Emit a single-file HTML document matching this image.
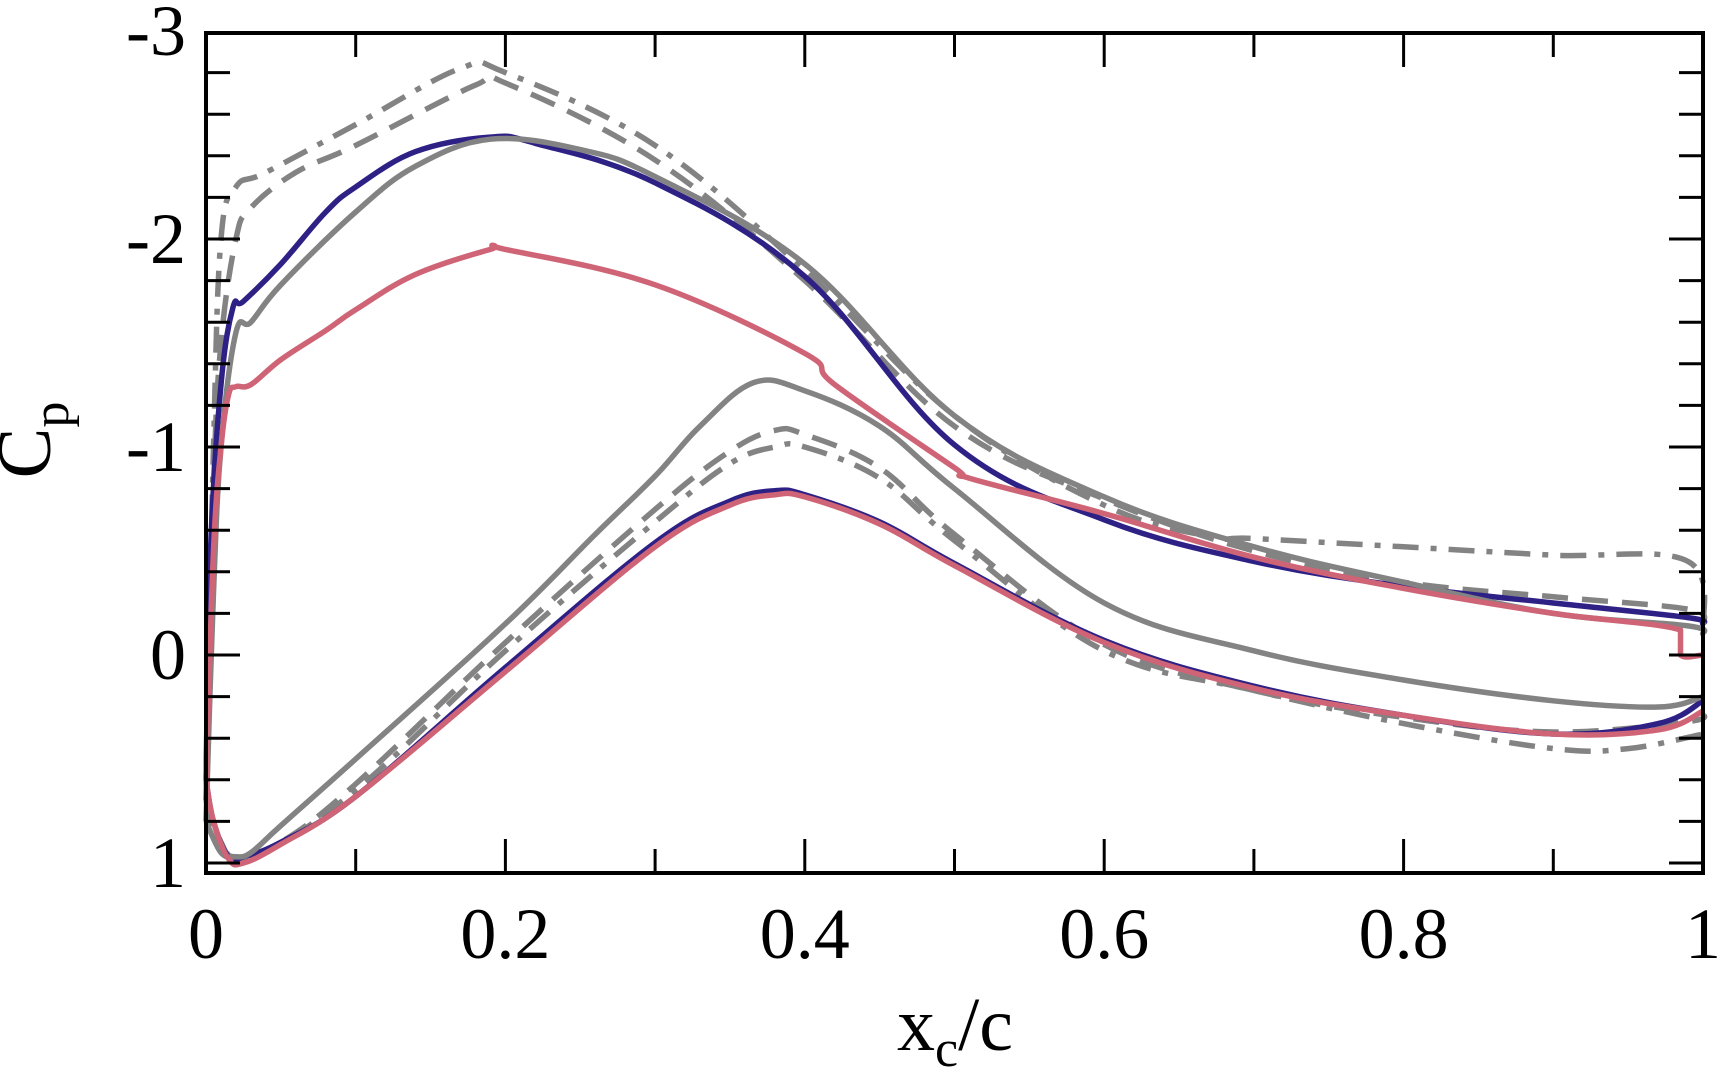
<!DOCTYPE html>
<html><head><meta charset="utf-8"><style>
html,body{margin:0;padding:0;background:#fff;}
svg{display:block;font-family:"Liberation Serif",serif;}
</style></head><body>
<svg id="chart" width="1727" height="1085" viewBox="0 0 1727 1085" xmlns="http://www.w3.org/2000/svg">
<g id="series"></g>
<g id="axes"></g>
<text x="50" y="440" font-size="76" text-anchor="middle" transform="rotate(-90 50 440)">C<tspan font-size="52" dy="18">p</tspan></text>
<text x="955" y="1050" font-size="76" text-anchor="middle">x<tspan font-size="52" dy="16">c</tspan><tspan dy="-16">/c</tspan></text>
</svg>
<script>
const xTicks=[0,0.2,0.4,0.6,0.8,1];
const xTickLabels=["0","0.2","0.4","0.6","0.8","1"];
const yTicks=[-3,-2,-1,0,1];
const yTickLabels=["-3","-2","-1","0","1"];
const navyUpX=[0,0.003,0.01,0.018,0.025,0.05,0.08,0.1,0.14,0.19,0.22,0.3,0.4,0.5,0.6,0.7,0.8,0.9,0.99,1.0];
const navyUpY=[0.6,-0.5,-1.3,-1.67,-1.70,-1.88,-2.13,-2.25,-2.42,-2.49,-2.46,-2.27,-1.82,-1.01,-0.65,-0.45,-0.33,-0.25,-0.18,-0.15];
const navyLoX=[0,0.005,0.015,0.025,0.05,0.1,0.2,0.3,0.35,0.38,0.4,0.45,0.5,0.6,0.7,0.8,0.9,0.97,1.0];
const navyLoY=[0.6,0.8,0.97,0.97,0.9,0.68,0.06,-0.54,-0.74,-0.79,-0.77,-0.64,-0.44,-0.07,0.15,0.29,0.38,0.33,0.22];
const redUpX=[0,0.005,0.01,0.015,0.02,0.03,0.05,0.08,0.1,0.14,0.19,0.2,0.3,0.4,0.42,0.5,0.51,0.6,0.7,0.8,0.9,0.985,0.985,1.0];
const redUpY=[0.6,-0.5,-1.0,-1.25,-1.29,-1.30,-1.42,-1.56,-1.66,-1.83,-1.95,-1.95,-1.78,-1.45,-1.30,-0.9,-0.85,-0.68,-0.47,-0.32,-0.2,-0.12,0.0,0.0];
const redLoX=[0,0.005,0.015,0.025,0.05,0.1,0.2,0.3,0.35,0.38,0.4,0.45,0.5,0.6,0.7,0.8,0.9,0.97,1.0];
const redLoY=[0.6,0.8,0.98,1.0,0.91,0.68,0.08,-0.52,-0.72,-0.77,-0.76,-0.63,-0.43,-0.06,0.16,0.29,0.38,0.36,0.27];
const grayUpX=[0,0.005,0.01,0.02,0.03,0.05,0.1,0.14,0.19,0.25,0.3,0.4,0.5,0.6,0.7,0.8,0.9,0.99,1.0];
const grayUpY=[0.8,-0.3,-1.0,-1.55,-1.6,-1.78,-2.13,-2.35,-2.48,-2.43,-2.3,-1.88,-1.15,-0.76,-0.52,-0.35,-0.2,-0.14,-0.1];
const grayLoX=[0,0.01,0.02,0.03,0.05,0.1,0.2,0.26,0.3,0.33,0.366,0.4,0.45,0.5,0.6,0.7,0.8,0.9,0.97,1.0];
const grayLoY=[0.8,0.95,0.97,0.95,0.82,0.5,-0.15,-0.58,-0.86,-1.1,-1.31,-1.27,-1.1,-0.8,-0.25,-0.02,0.12,0.22,0.25,0.2];
const dashUpX=[0,0.005,0.01,0.02,0.03,0.06,0.1,0.18,0.2,0.3,0.4,0.5,0.6,0.7,0.8,0.9,0.99,1.0];
const dashUpY=[0.7,-0.8,-1.5,-2.0,-2.15,-2.32,-2.45,-2.74,-2.75,-2.38,-1.8,-1.1,-0.75,-0.5,-0.35,-0.28,-0.22,-0.15];
const dashLoX=[0,0.01,0.02,0.05,0.1,0.2,0.3,0.35,0.38,0.4,0.45,0.5,0.6,0.7,0.8,0.9,0.99,1.0];
const dashLoY=[0.7,0.9,0.97,0.9,0.62,-0.06,-0.7,-0.98,-1.08,-1.06,-0.9,-0.58,-0.05,0.17,0.3,0.37,0.32,0.28];
const ddUpX=[0,0.005,0.01,0.02,0.04,0.1,0.17,0.2,0.3,0.4,0.5,0.6,0.67,0.7,0.8,0.9,0.99,1.0];
const ddUpY=[0.7,-1.0,-2.0,-2.25,-2.32,-2.55,-2.82,-2.8,-2.45,-1.85,-1.15,-0.72,-0.57,-0.56,-0.52,-0.48,-0.45,-0.1];
const ddLoX=[0,0.01,0.03,0.1,0.2,0.3,0.35,0.38,0.4,0.45,0.5,0.6,0.7,0.8,0.9,0.95,1.0];
const ddLoY=[0.7,0.9,0.98,0.65,-0.02,-0.64,-0.92,-1.0,-1.0,-0.85,-0.55,-0.02,0.17,0.33,0.45,0.45,0.38];

const X0=206,X1=1703,YT=33,YB=873;
function sx(v){return X0+v*(X1-X0);}
function sy(v){return 655+v*208;}
const NS="http://www.w3.org/2000/svg";
const sg=document.getElementById('series');
const ag=document.getElementById('axes');
function line(xs,ys,color,dash,name){
  const p=document.createElementNS(NS,'path');
  const P=xs.map((x,i)=>[sx(x),sy(ys[i])]);
  let d='M'+P[0][0].toFixed(1)+','+P[0][1].toFixed(1);
  for(let i=0;i<P.length-1;i++){
    const p0=P[Math.max(0,i-1)],p1=P[i],p2=P[i+1],p3=P[Math.min(P.length-1,i+2)];
    const t=0.18;
    let c1=[p1[0]+(p2[0]-p0[0])*t,p1[1]+(p2[1]-p0[1])*t];
    let c2=[p2[0]-(p3[0]-p1[0])*t,p2[1]-(p3[1]-p1[1])*t];
    if(Math.abs(p2[0]-p1[0])<1){c1=p1;c2=p2;}
    d+='C'+c1[0].toFixed(1)+','+c1[1].toFixed(1)+' '+c2[0].toFixed(1)+','+c2[1].toFixed(1)+' '+p2[0].toFixed(1)+','+p2[1].toFixed(1);
  }
  p.setAttribute('d',d);p.setAttribute('fill','none');p.setAttribute('stroke',color);
  p.setAttribute('stroke-width','5.5');p.setAttribute('stroke-linejoin','round');
  if(dash)p.setAttribute('stroke-dasharray',dash);
  
  
  sg.appendChild(p);
}
const G='#838383';
line(ddUpX,ddUpY,G,'26,12,6,12','dashdot-upper');
line(ddLoX,ddLoY,G,'26,12,6,12','dashdot-lower');
line(dashUpX,dashUpY,G,'26,14','dashed-upper');
line(dashLoX,dashLoY,G,'26,14','dashed-lower');
line(navyUpX,navyUpY,'#2e2185','','navy-upper');
line(navyLoX,navyLoY,'#2e2185','','navy-lower');
line(grayUpX,grayUpY,G,'','gray-solid-upper');
line(grayLoX,grayLoY,G,'','gray-solid-lower');
line(redUpX,redUpY,'#cf6476','','red-upper');
line(redLoX,redLoY,'#cf6476','','red-lower');

function el(tag,attrs){const e=document.createElementNS(NS,tag);for(const k in attrs)e.setAttribute(k,attrs[k]);ag.appendChild(e);return e;}
const frame=el('rect',{x:X0,y:YT,width:X1-X0,height:YB-YT,fill:'none',stroke:'#000','stroke-width':4});


for(let i=0;i<=10;i++){
  const v=i/10, major=i%2===0, L=major?34:24, x=sx(v);
  const t1=el('line',{x1:x,x2:x,y1:YB,y2:YB-L,stroke:'#000','stroke-width':3});
  
  
  const t2=el('line',{x1:x,x2:x,y1:YT,y2:YT+L,stroke:'#000','stroke-width':3});
  
  
}
xTicks.forEach((v,i)=>{
  const t=el('text',{x:sx(v),y:958,'font-size':72,'text-anchor':'middle'});
  t.textContent=xTickLabels[i];
  
  
});
for(let i=-15;i<=5;i++){
  const v=i/5, major=i%5===0, L=major?34:24, y=sy(v);
  if(y<YT-1||y>YB+1)continue;
  const t1=el('line',{x1:X0,x2:X0+L,y1:y,y2:y,stroke:'#000','stroke-width':3});
  
  
  const t2=el('line',{x1:X1,x2:X1-L,y1:y,y2:y,stroke:'#000','stroke-width':3});
  
  
}
yTicks.forEach((v,i)=>{
  const t=el('text',{x:186,y:sy(v)+24,'font-size':72,'text-anchor':'end'});
  t.textContent=yTickLabels[i];
  
  
});
</script>
</body></html>
